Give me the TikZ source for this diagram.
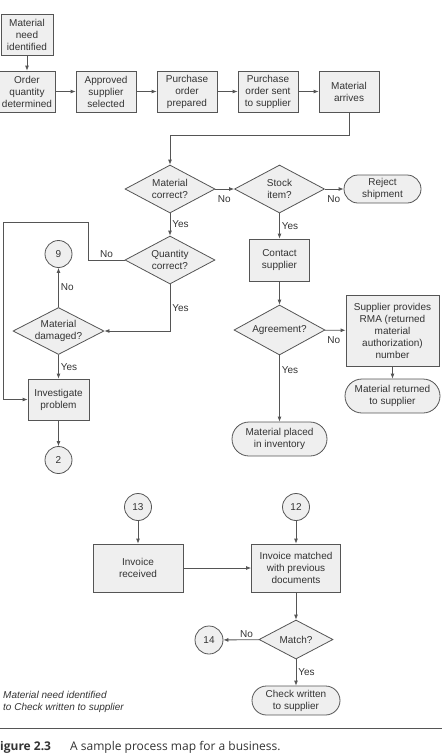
\documentclass[tikz,border=0pt]{standalone}
\usepackage{fontspec}
\setmainfont{Liberation Sans}
\newfontfamily\capfont{Open Sans}
\usetikzlibrary{shapes.geometric,arrows.meta}
\definecolor{boxfill}{HTML}{EFEFEF}
\definecolor{boxline}{HTML}{555555}
\definecolor{inkgray}{HTML}{333333}
\tikzset{
	shapebase/.style={draw=boxline, fill=boxfill, line width=0.8pt, text=inkgray, font=\fontsize{10}{12}\selectfont, align=center, inner sep=0pt},
	stepbox/.style={shapebase, rectangle, minimum width=60pt, minimum height=41pt},
	decide/.style={shapebase, diamond, aspect=2, minimum width=90pt, minimum height=48pt},
	terminal/.style={shapebase, rectangle, rounded corners=14pt, minimum height=28pt},
	link/.style={shapebase, circle, minimum size=27pt},
	arr/.style={draw=boxline, line width=0.8pt, -{Latex[length=5pt,width=4pt]}},
	lab/.style={text=inkgray, font=\fontsize{10}{12}\selectfont, inner sep=2pt}
}
\begin{document}
\begin{tikzpicture}[x=1pt, y=-1pt]
	\useasboundingbox (0,0) rectangle (442,753);
	\node[stepbox, minimum width=52pt] (need) at (27,34.5) {Material\\need\\identified};
	\node[stepbox, minimum width=56pt] (order) at (27,91.5) {Order\\quantity\\determined};
	\node[stepbox] (approved) at (106,91.5) {Approved\\supplier\\selected};
	\node[stepbox] (prepared) at (187,91.5) {Purchase\\order\\prepared};
	\node[stepbox] (sent) at (268,91.5) {Purchase\\order sent\\to supplier};
	\node[stepbox] (arrives) at (349,91.5) {Material\\arrives};
	\node[decide] (correct) at (170,189) {Material\\correct?};
	\node[decide] (stock) at (279.5,189) {Stock\\item?};
	\node[terminal, minimum width=77pt] (reject) at (382.5,189) {Reject\\shipment};
	\node[decide] (quantity) at (170,260) {Quantity\\correct?};
	\node[stepbox, minimum height=42pt] (contact) at (279.5,260) {Contact\\supplier};
	\node[link] (nine) at (58.5,254) {9};
	\node[decide, minimum width=91pt, minimum height=47pt] (damaged) at (58.5,331) {Material\\damaged?};
	\node[decide, minimum width=91pt, minimum height=50pt] (agreement) at (279.5,330) {Agreement?};
	\node[stepbox, minimum width=93pt, minimum height=71pt] (rma) at (392.5,330.5) {Supplier provides\\RMA (returned\\material\\authorization)\\number};
	\node[terminal, minimum width=95pt, minimum height=34pt, rounded corners=17pt] (returned) at (392.5,396) {Material returned\\to supplier};
	\node[stepbox, minimum width=61pt] (investigate) at (58.5,399.5) {Investigate\\problem};
	\node[terminal, minimum width=95pt, minimum height=34pt, rounded corners=17pt] (placed) at (279.5,439) {Material placed\\in inventory};
	\node[link] (two) at (58.5,460) {2};
	\node[link] (thirteen) at (138,507) {13};
	\node[link] (twelve) at (296,507) {12};
	\node[stepbox, minimum width=90pt, minimum height=48pt] (received) at (138,568) {Invoice\\received};
	\node[stepbox, minimum width=89pt, minimum height=48pt] (matched) at (296,568) {Invoice matched\\with previous\\documents};
	\node[decide, minimum width=74pt, minimum height=39pt] (match) at (296,639.5) {Match?};
	\node[link, minimum size=28pt] (fourteen) at (209,640) {14};
	\node[terminal, minimum width=88pt, minimum height=29pt, rounded corners=14.5pt] (check) at (296,700.5) {Check written\\to supplier};
	\node[lab, align=left, anchor=north west, font=\fontsize{10}{12}\selectfont\itshape] (note) at (1,689) {Material need identified\\to Check written to supplier};
	\draw[arr] (need) -- (order);
	\draw[arr] (order) -- (approved);
	\draw[arr] (approved) -- (prepared);
	\draw[arr] (prepared) -- (sent);
	\draw[arr] (sent) -- (arrives);
	\draw[arr] (arrives.south) -- ++(0,23) -| (correct.north);
	\draw[arr] (correct) -- node[lab, pos=0, anchor=north west, yshift=-4pt]{No} (stock);
	\draw[arr] (stock) -- node[lab, pos=0, anchor=north west, yshift=-4pt]{No} (reject);
	\draw[arr] (correct) -- node[lab, right]{Yes} (quantity);
	\draw[arr] (stock) -- node[lab, right]{Yes} (contact);
	\draw[arr] (contact) -- (agreement);
	\draw[arr] (agreement) -- node[lab, pos=0, anchor=north west, yshift=-4pt]{No} (rma);
	\draw[arr] (rma) -- (returned);
	\draw[arr] (agreement) -- node[lab, right, pos=.22]{Yes} (placed);
	\draw[arr] (quantity.west) -- node[lab, above]{No} ++(-36,0) |- ++(-85,-38) |- (investigate.west);
	\draw[arr] (quantity) |- node[lab, right, pos=.25]{Yes} (damaged);
	\draw[arr] (damaged) -- node[lab, right]{No} (nine);
	\draw[arr] (damaged) -- node[lab, right]{Yes} (investigate);
	\draw[arr] (investigate) -- (two);
	\draw[arr] (thirteen) -- (received);
	\draw[arr] (twelve) -- (matched);
	\draw[arr] (received) -- (matched);
	\draw[arr] (matched) -- (match);
	\draw[arr] (match) -- node[lab, above, pos=.35]{No} (fourteen);
	\draw[arr] (match) -- node[lab, right]{Yes} (check);
	\coordinate (ruleleft) at (0,728);
	\coordinate (ruleright) at (442,728);
	\draw[boxline, line width=0.8pt] (ruleleft) -- (ruleright);
	\node[anchor=base west, inner sep=0pt, text=inkgray, font=\capfont\fontsize{12}{14}\selectfont\bfseries] (fignum) at (0,750.5) {igure 2.3};
	\node[anchor=base west, inner sep=0pt, text=inkgray, font=\capfont\fontsize{12}{14}\selectfont] (caption) at (70,750.5) {A sample process map for a business.};
\end{tikzpicture}
\end{document}
